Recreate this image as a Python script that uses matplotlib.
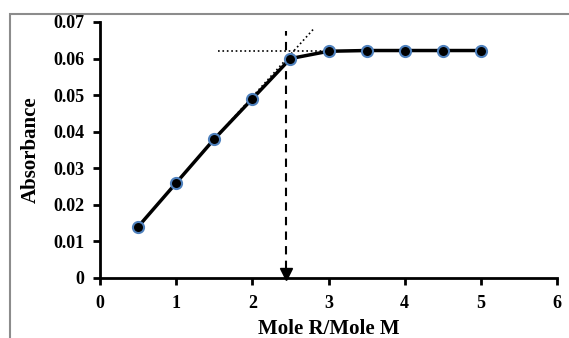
import matplotlib
matplotlib.use('Agg')
from matplotlib import pyplot as plt
from matplotlib.patches import Rectangle

ratio = [0.5, 1.0, 1.5, 2.0, 2.5, 3.0, 3.5, 4.0, 4.5, 5.0]
absorbance = [0.014, 0.026, 0.038, 0.049, 0.060, 0.062, 0.0622, 0.0622, 0.0622, 0.0622]

# tangent lines and break point
rise_x = [1.5, 2.8]
rise_y = [0.038, 0.068]
flat_x = [1.55, 3.0]
flat_y = [0.062, 0.062]
break_x = 2.44
break_top = 0.0675

x_ticks = [0, 1, 2, 3, 4, 5, 6]
y_ticks = [0, 0.01, 0.02, 0.03, 0.04, 0.05, 0.06, 0.07]
y_labels = ['0', '0.01', '0.02', '0.03', '0.04', '0.05', '0.06', '0.07']

plt.rcParams['font.family'] = ['Liberation Serif', 'DejaVu Serif']
plt.rcParams['font.weight'] = 'bold'

fig = plt.figure(figsize=(5.69, 3.38), dpi=100)
# grey outer frame, runs off the right and bottom edges
fig.patches.append(Rectangle((10 / 569, -0.2), 1.2, 0.2 + (1 - 14 / 338),
                             transform=fig.transFigure, fill=False,
                             edgecolor='#8c8c8c', linewidth=1.5))

ax = fig.add_axes([100 / 569, 1 - 278 / 338, 457 / 569, 256 / 338])

ax.plot(rise_x, rise_y, color='black', linestyle=':', linewidth=1.2, zorder=2)
ax.plot(flat_x, flat_y, color='black', linestyle=':', linewidth=1.2, zorder=2)
ax.plot([break_x, break_x], [0.0025, break_top], color='black',
        linestyle=(0, (4, 3)), linewidth=1.5, zorder=2)
ax.plot([break_x], [0.0012], marker='v', color='black', markersize=8,
        linestyle='none', zorder=3, clip_on=False)

ax.plot(ratio, absorbance, color='black', linewidth=2.5, marker='o',
        markersize=8, markerfacecolor='black', markeredgecolor='#4f81bd',
        markeredgewidth=1.5, zorder=4)

ax.set_xlim(0, 6)
ax.set_ylim(0, 0.07)
ax.set_xticks(x_ticks)
ax.set_yticks(y_ticks)
ax.set_yticklabels(y_labels)
for s in ['top', 'right']:
    ax.spines[s].set_visible(False)
for s in ['left', 'bottom']:
    ax.spines[s].set_linewidth(2)
ax.tick_params(axis='both', direction='out', width=2, length=5, labelsize=13)
ax.tick_params(axis='x', pad=7)
ax.tick_params(axis='y', pad=6)
ax.set_xlabel('Mole R/Mole M', fontsize=15, fontweight='bold', labelpad=5)
ax.set_ylabel('Absorbance', fontsize=15, fontweight='bold', labelpad=9)

fig.savefig('out.png', dpi=100)
